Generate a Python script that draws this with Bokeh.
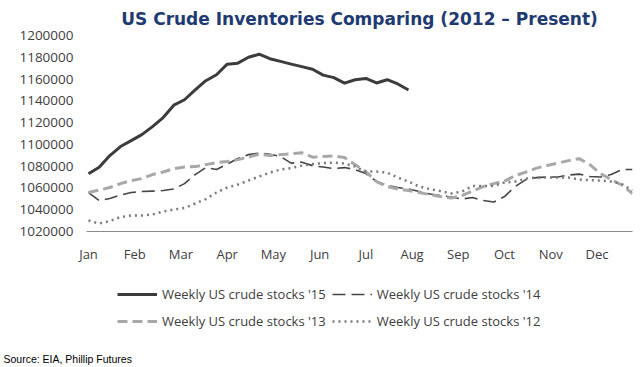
from bokeh.plotting import figure
from bokeh.layouts import column
from bokeh.models import (Range1d, FixedTicker, PrintfTickFormatter, Legend,
                          LegendItem, Label)
from bokeh.embed import file_html
from bokeh.resources import INLINE

# ---- data (weekly US crude stocks, thousand barrels), week index 0..51 ----
months = ["Jan", "Feb", "Mar", "Apr", "May", "Jun",
          "Jul", "Aug", "Sep", "Oct", "Nov", "Dec"]

stocks_2015 = [1073000, 1079000, 1089700, 1098000, 1103500, 1109000, 1116300,
               1124600, 1136000, 1141000, 1150000, 1158500, 1164000, 1173700,
               1174600, 1180000, 1182800, 1178700, 1176200, 1173700, 1171400,
               1169000, 1163600, 1161300, 1156200, 1159400, 1160600, 1156400,
               1159400, 1155500, 1150000]

stocks_2014 = [1055800, 1048500, 1050300, 1053500, 1055800, 1056700, 1057100,
               1057600, 1059000, 1064000, 1072300, 1078700, 1076900, 1081900,
               1087000, 1090600, 1092000, 1091000, 1088800, 1082800, 1083700,
               1080500, 1079200, 1077800, 1078700, 1076900, 1073200, 1065900,
               1062300, 1060400, 1059000, 1056700, 1054400, 1053000, 1051700,
               1049800, 1051200, 1048500, 1047100, 1052100, 1061300, 1067700,
               1069500, 1070000, 1070000, 1071800, 1072700, 1070500, 1070000,
               1072300, 1076900, 1076900]

stocks_2013 = [1055800, 1058100, 1060400, 1064000, 1066800, 1068600, 1072300,
               1074600, 1077800, 1079200, 1079600, 1081400, 1083300, 1084200,
               1086000, 1088300, 1091000, 1089700, 1090600, 1091500, 1092400,
               1088300, 1088800, 1089300, 1087900, 1081400, 1075000, 1065900,
               1061300, 1059000, 1057600, 1055800, 1053900, 1052100, 1050700,
               1053000, 1057100, 1061300, 1064000, 1066300, 1071300, 1074600,
               1078200, 1080600, 1082800, 1085100, 1086900, 1081400, 1073200,
               1067700, 1062700, 1054900]

stocks_2012 = [1030100, 1027300, 1029600, 1033300, 1034700, 1034700, 1035600,
               1038300, 1040200, 1041600, 1045700, 1049800, 1055800, 1060400,
               1063100, 1066800, 1070500, 1074100, 1076900, 1078200, 1080500,
               1081900, 1082800, 1083300, 1082400, 1079600, 1075000, 1075000,
               1074100, 1069500, 1065900, 1061300, 1059000, 1057100, 1054900,
               1056700, 1061700, 1061700, 1061700, 1065000, 1065900, 1068600,
               1069500, 1069500, 1069500, 1069500, 1067700, 1067200, 1066800,
               1065900, 1063500, 1057600]

y_ticks = [1020000, 1040000, 1060000, 1080000, 1100000, 1120000,
           1140000, 1160000, 1180000, 1200000]

series_labels = ["Weekly US crude stocks '15", "Weekly US crude stocks '14",
                 "Weekly US crude stocks '13", "Weekly US crude stocks '12"]

FONT = "Open Sans"
TXT = "#404040"

# line styles: (color, width, dash)
styles = [("#3c3c3c", 3, "solid"),
          ("#454545", 1.6, "13 6"),
          ("#a8a8a8", 3, "10 5"),
          ("#7a7a7a", 2.5, "2 4")]
series = [stocks_2015, stocks_2014, stocks_2013, stocks_2012]

# ---- main chart figure ----
W, H1, H2 = 640, 275, 92
p = figure(width=W, height=H1, output_backend="svg", toolbar_location=None,
           x_range=Range1d(-0.1875, 51), y_range=Range1d(1020000, 1200000),
           min_border_left=86, min_border_right=8, min_border_top=35,
           min_border_bottom=H1 - 231)
p.frame_align = False
p.outline_line_color = None
p.grid.visible = False
p.background_fill_color = "white"
p.border_fill_color = "white"

p.title.text = "US Crude Inventories Comparing (2012 \u2013 Present)"
p.title.text_font = "DejaVu Sans"
p.title.text_font_style = "bold"
p.title.text_font_size = "17px"
p.title.text_color = "#1d3a72"
p.title.align = "center"
p.title.offset = 6
p.title.standoff = 13

yax = p.yaxis[0]
yax.ticker = FixedTicker(ticks=y_ticks)
yax.formatter = PrintfTickFormatter(format="%d")
yax.axis_line_color = None
yax.major_tick_line_color = None
yax.minor_tick_line_color = None
yax.major_tick_out = 0
yax.major_tick_in = 0
yax.major_label_standoff = 13
yax.major_label_text_font = FONT
yax.major_label_text_font_size = "13.5px"
yax.major_label_text_color = TXT

month_pos = [i * 52 / 12 for i in range(12)]
xax = p.xaxis[0]
xax.ticker = FixedTicker(ticks=month_pos)
xax.major_label_overrides = {t: m for t, m in zip(month_pos, months)}
xax.axis_line_color = "#8c8c8c"
xax.axis_line_width = 1
xax.major_tick_line_color = None
xax.minor_tick_line_color = None
xax.major_tick_out = 0
xax.major_tick_in = 0
xax.major_label_standoff = 13
xax.major_label_text_font = FONT
xax.major_label_text_font_size = "13px"
xax.major_label_text_color = TXT

for vals, (col, lw, dash) in zip(series, styles):
    p.line(list(range(len(vals))), vals, line_color=col, line_width=lw,
           line_dash=dash, line_join="round")

# ---- legend / source figure (frame spans whole canvas) ----
q = figure(width=W, height=H2, output_backend="svg", toolbar_location=None,
           x_axis_type=None, y_axis_type=None,
           x_range=Range1d(0, 1), y_range=Range1d(0, 1),
           min_border=0, min_border_left=0, min_border_right=0,
           min_border_top=0, min_border_bottom=0)
q.frame_align = False
q.outline_line_color = None
q.grid.visible = False
q.background_fill_color = "white"
q.border_fill_color = "white"

# legend-only renderers: same series, lying outside this figure's ranges
legend_renderers = []
for vals, (col, lw, dash) in zip(series, styles):
    legend_renderers.append(q.line(list(range(len(vals))), vals,
                                   line_color=col, line_width=lw,
                                   line_dash=dash))

def make_legend(items, loc):
    return Legend(items=items, location=loc, orientation="horizontal",
                  glyph_width=40, glyph_height=16, label_height=16,
                  label_standoff=5, spacing=6, padding=0, margin=0,
                  label_text_font=FONT, label_text_font_size="13px",
                  label_text_color=TXT, background_fill_alpha=0,
                  border_line_alpha=0)

leg1 = make_legend([LegendItem(label=series_labels[0], renderers=[legend_renderers[0]]),
                    LegendItem(label=series_labels[1], renderers=[legend_renderers[1]])],
                   (117, 64))
leg2 = make_legend([LegendItem(label=series_labels[2], renderers=[legend_renderers[2]]),
                    LegendItem(label=series_labels[3], renderers=[legend_renderers[3]])],
                   (117, 37))
q.add_layout(leg1, "center")
q.add_layout(leg2, "center")

source = Label(x=3, y=9, x_units="screen", y_units="screen",
               text="Source: EIA, Phillip Futures",
               text_font="Liberation Sans", text_font_size="10.5px",
               text_color="black", text_align="left", text_baseline="middle")
q.add_layout(source)

layout = column(p, q, spacing=0)
open("out.html", "w").write(file_html(layout, INLINE))
